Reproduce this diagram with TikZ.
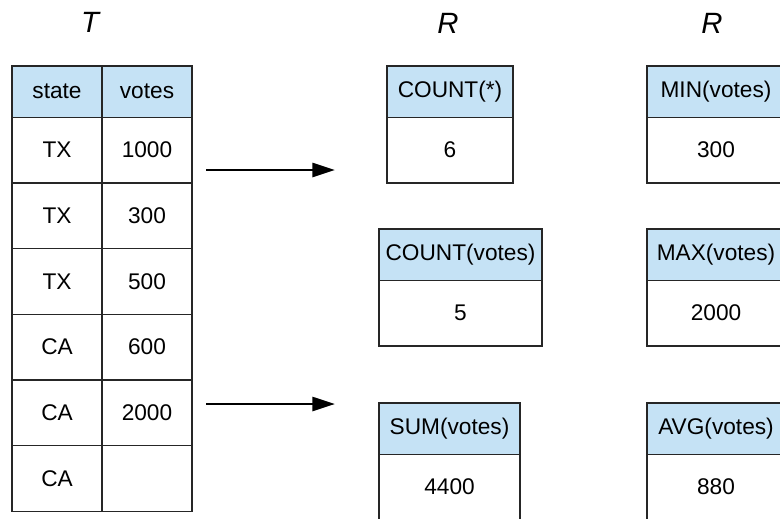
\documentclass[tikz,border=0pt]{standalone}
\usepackage{fontspec}
\setmainfont{Liberation Sans}
\usetikzlibrary{arrows.meta, positioning}

\definecolor{headblue}{RGB}{197,226,245}

\begin{document}
\begin{tikzpicture}[
            x = 0.75pt, y = -0.75pt, % pixel grid, y grows downwards
            > = {Triangle[length=17pt, width=10.5pt]}, % arrow head style
            font = \fontsize{17}{20}\selectfont,
            node distance = 0pt, % cells touch each other
            line width = 1pt
        ]

        \tikzstyle{cell}=[
            draw = black!85,
            minimum width = 67.5pt,
            minimum height = 49.25pt,
            inner sep = 0pt,
            outer sep = 0pt
        ]
        \tikzstyle{head}=[cell, fill = headblue, minimum height = 38.5pt]
        \tikzstyle{title}=[font = \fontsize{22}{26}\selectfont\itshape]

        \clip (0,0) rectangle (780,518);

        % input table T
        \node[title] (tT) at (90,22) {T};
        \node[head, anchor=north west] (st) at (12,66) {state};
        \node[head, right=of st] (vt) {votes};

        \node[cell, below=of st] (s1) {TX};
        \node[cell, below=of s1] (s2) {TX};
        \node[cell, below=of s2] (s3) {TX};
        \node[cell, below=of s3] (s4) {CA};
        \node[cell, below=of s4] (s5) {CA};
        \node[cell, below=of s5] (s6) {CA};

        \node[cell, below=of vt] (v1) {1000};
        \node[cell, below=of v1] (v2) {300};
        \node[cell, below=of v2] (v3) {500};
        \node[cell, below=of v3] (v4) {600};
        \node[cell, below=of v4] (v5) {2000};
        \node[cell, below=of v5] (v6) {};

        % arrows
        \coordinate (a1) at (206,170);
        \coordinate (b1) at (335,170);
        \coordinate (a2) at (206,404);
        \coordinate (b2) at (335,404);
        \draw[->, line width=2pt] (a1) -- (b1);
        \draw[->, line width=2pt] (a2) -- (b2);

        % counting results
        \node[title] (tR1) at (448,23) {R};
        \node[head, minimum width=94.5pt, anchor=north] (cnt) at (450,66) {COUNT(*)};
        \node[cell, minimum width=94.5pt, below=of cnt] (cntv) {6};

        \node[head, minimum width=122.25pt, anchor=north] (cntx) at (460.5,229) {COUNT(votes)};
        \node[cell, minimum width=122.25pt, below=of cntx] (cntxv) {5};

        \node[head, minimum width=105.75pt, anchor=north] (sum) at (449.5,403) {SUM(votes)};
        \node[cell, minimum width=105.75pt, below=of sum] (sumv) {4400};

        % min, max and average
        \node[title] (tR2) at (712,23) {R};
        \node[head, minimum width=103.5pt, anchor=north west] (min) at (647,66) {MIN(votes)};
        \node[cell, minimum width=103.5pt, below=of min] (minv) {300};

        \node[head, minimum width=103.5pt, anchor=north west] (max) at (647,229) {MAX(votes)};
        \node[cell, minimum width=103.5pt, below=of max] (maxv) {2000};

        \node[head, minimum width=103.5pt, anchor=north west] (avg) at (647,403) {AVG(votes)};
        \node[cell, minimum width=103.5pt, below=of avg] (avgv) {880};

    \end{tikzpicture}
\end{document}
